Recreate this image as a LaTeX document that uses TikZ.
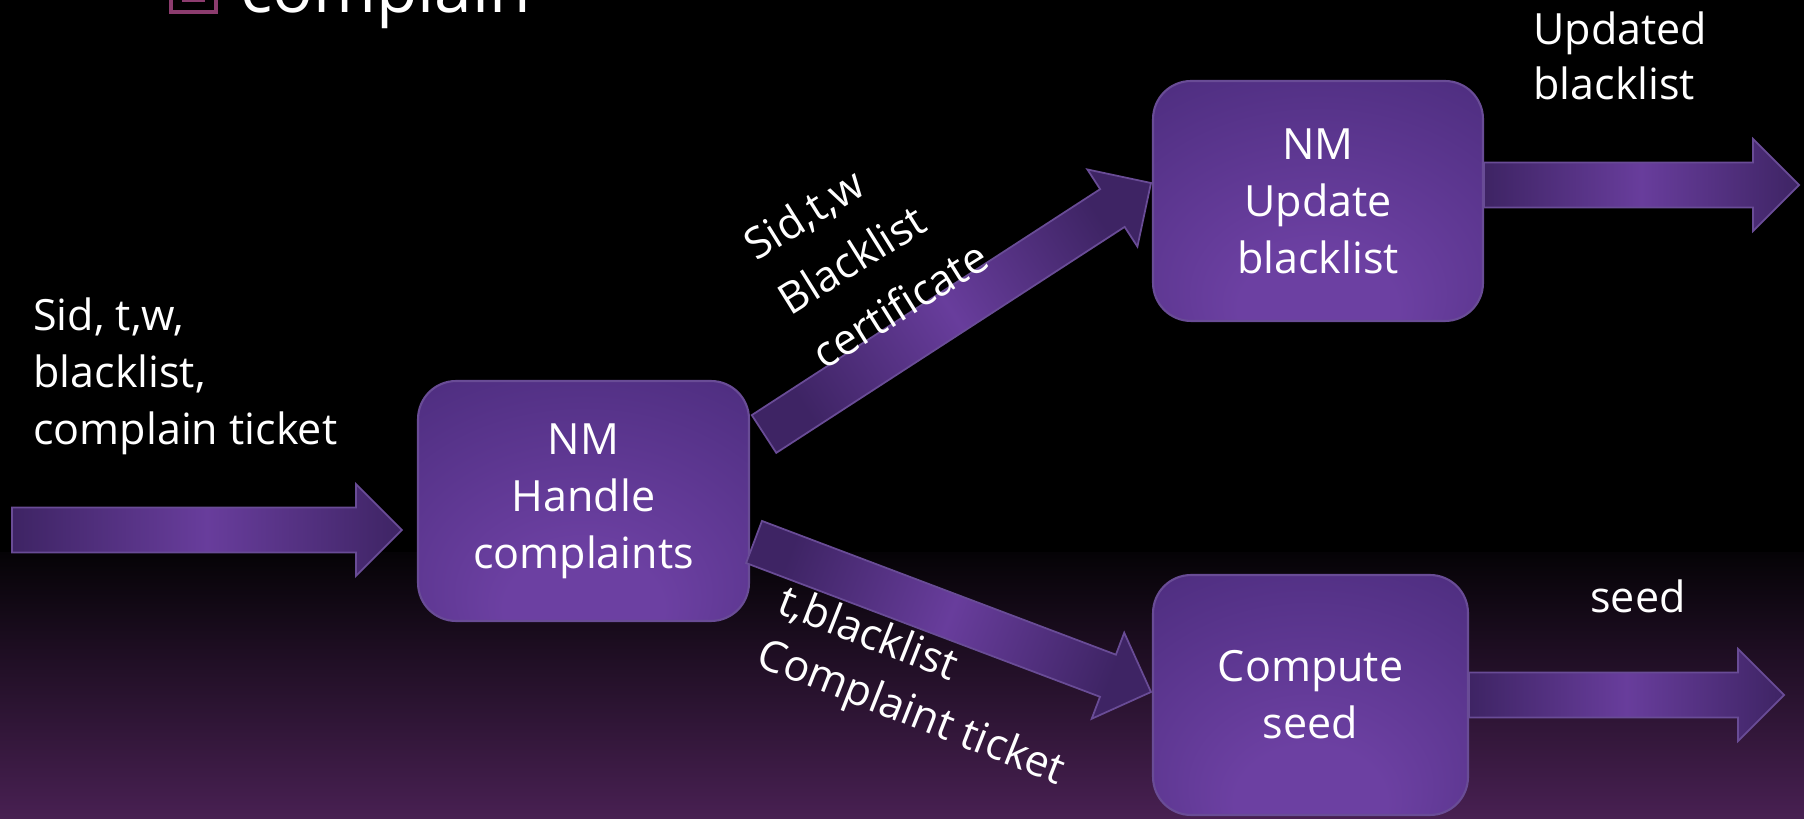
\documentclass[tikz,border=0pt]{standalone}
\usepackage{fontspec}
\setmainfont{Open Sans}
\usetikzlibrary{calc}

\definecolor{boxdark}{RGB}{58,33,96}
\definecolor{boxmid}{RGB}{80,47,130}
\definecolor{boxlight}{RGB}{108,64,162}
\definecolor{boxline}{RGB}{105,76,150}
\definecolor{arrdark}{RGB}{62,36,100}
\definecolor{arrlight}{RGB}{104,61,156}
\definecolor{bgtop}{RGB}{5,3,6}
\definecolor{bgbot}{RGB}{72,32,82}
\definecolor{bullet}{RGB}{140,60,110}
\pgfdeclareradialshading{boxglow}{\pgfpoint{0bp}{-28bp}}{color(0bp)=(boxlight); color(12bp)=(boxlight); color(40bp)=(boxmid); color(62bp)=(boxdark)}

\begin{document}
\begin{tikzpicture}[x=0.02cm, y=0.02cm]
  \useasboundingbox (0,0) rectangle (1804,818);
  \fill[black] (0,0) rectangle (1804,818);
  \shade[top color=bgtop, bottom color=bgbot] (0,0) rectangle (1804,265);

  % title line, cut off at the top
  \draw[bullet, line width=2.3pt] (171,806) rectangle (216,840);
  \fill[bullet] (182,816) rectangle (205,840);
  \node[anchor=base west, text=white, inner sep=0, font=\fontsize{38.5}{40}\selectfont] (ttl) at (240,805) {complain};

  \begin{scope}[every node/.style={rounded corners=0.76cm, draw=boxline, line width=1.2pt, shade, shading=boxglow,
      text=white, align=center, inner sep=0, minimum height=4.8cm, font=\fontsize{24.5}{32.5}\selectfont}]
      \node[minimum width=6.62cm] (handle) at (583.5,317) {NM\\Handle\\complaints};

      \node[minimum width=6.6cm] (update) at (1318,617) {NM\\Update\\blacklist};
      \node[minimum width=6.3cm] (compute) at (1310.5,123) {Compute\\seed};
  \end{scope}

  \tikzset{fat arc/.style={draw=boxline, line width=1pt, left color=arrdark, right color=arrdark, middle color=arrlight,
      to path={let \p1=($(\tikztotarget)-(\tikztostart)$), \n1={atan2(\y1,\x1)} in
        ($(\tikztostart)+({\n1+90}:22.5)$)
        -- ($(\tikztotarget)+({\n1+180}:46)+({\n1+90}:22.5)$)
        -- ($(\tikztotarget)+({\n1+180}:46)+({\n1+90}:46)$)
        -- (\tikztotarget)
        -- ($(\tikztotarget)+({\n1+180}:46)+({\n1-90}:46)$)
        -- ($(\tikztotarget)+({\n1+180}:46)+({\n1-90}:22.5)$)
        -- ($(\tikztostart)+({\n1-90}:22.5)$) -- cycle}},
    arc label/.style={text=white, inner sep=0, align=left, font=\fontsize{24.5}{32.5}\selectfont}}

  \coordinate (inTail) at (12,288);
  \coordinate (inTip) at ($(handle.west)+(-15,-29)$);
  \coordinate (upTail) at ($(handle.east)+(14,67)$);
  \coordinate (upTip) at ($(update.west)+(-1,18)$);
  \coordinate (downTail) at ($(handle.east)+(4,-41)$);
  \coordinate (downTip) at ($(compute.west)+(-1,3)$);
  \coordinate (updTail) at ($(update.east)+(0,16)$);
  \coordinate (updTip) at ($(update.east)+(315,16)$);
  \coordinate (seedTip) at ($(compute.east)+(315,0)$);

  \path[fat arc] (inTail) to (inTip);
  \path[fat arc, shading angle=123] (upTail) to (upTip);
  \path[fat arc, shading angle=69] (downTail) to (downTip);
  \path[fat arc] (updTail) to (updTip);
  \path[fat arc] (compute.east) to (seedTip);

  \node[arc label, anchor=north west] (inLbl) at (33,521) {Sid, t,w,\\blacklist,\\complain ticket};
  \node[arc label, rotate=32, font=\fontsize{24.5}{36.4}\selectfont] (upLbl) at (866,568) {Sid,t,w\\Blacklist\\certificate};
  \node[arc label, rotate=-21.5] (downLbl) at (921,130) {t,blacklist\\Complaint ticket};
  \node[arc label, anchor=north west, font=\fontsize{24.5}{31.3}\selectfont] (updLbl) at (1533,807) {Updated\\blacklist};
  \node[arc label, anchor=base] (seedLbl) at (1638,205) {seed};
\end{tikzpicture}
\end{document}
